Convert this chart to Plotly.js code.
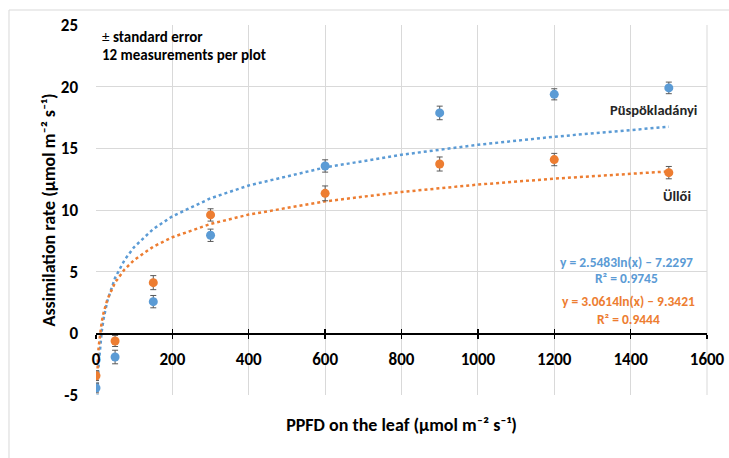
<!DOCTYPE html>
<html>
<head>
<meta charset="utf-8">
<script src="https://cdn.plot.ly/plotly-3.0.1.min.js"></script>
<style>html,body{margin:0;padding:0;background:#fff;}#chart{width:729px;height:458px;}</style>
</head>
<body>
<div id="chart"></div>
<script>
// Measured data (PPFD on the leaf vs assimilation rate)
const ppfd = [0, 50, 150, 300, 600, 900, 1200, 1500];
const puspokValues = [-4.43, -1.92, 2.57, 7.95, 13.57, 17.87, 19.38, 19.9];
const puspokErr = [0.4, 0.55, 0.5, 0.5, 0.5, 0.55, 0.45, 0.47];
const ulloiValues = [-3.43, -0.62, 4.11, 9.6, 11.35, 13.73, 14.09, 13.03];
const ulloiErr = [0.4, 0.45, 0.57, 0.5, 0.6, 0.57, 0.5, 0.5];

// Logarithmic trendlines
const trendX = [1, 2, 3, 5, 7, 10, 15, 20, 30, 50, 75, 100, 150, 200, 300, 400, 600, 800, 1000, 1200, 1500];
const puspokTrend = [-9.58, -7.08, -5.63, -3.79, -2.57, -1.29, 0.17, 1.20, 2.66, 4.50, 5.96, 7.00, 8.46, 9.49, 10.95, 11.99, 13.45, 14.48, 15.29, 15.94, 16.75];
const ulloiTrend = [-6.25, -4.41, -3.34, -1.99, -1.09, -0.15, 0.93, 1.69, 2.76, 4.12, 5.19, 5.95, 7.03, 7.79, 8.87, 9.63, 10.70, 11.46, 12.06, 12.54, 13.13];

// Axis ticks
const xTicks = [0, 200, 400, 600, 800, 1000, 1200, 1400, 1600];
const yTicks = [-5, 0, 5, 10, 15, 20, 25];
const yTickText = ['-5', '0', '5', '10', '15', '20', '25'];

const seriesNames = ['Püspökladányi', 'Üllői'];
const equations = ['y = 2.5483ln(x) – 7.2297', 'y = 3.0614ln(x) – 9.3421'];
const r2Labels = ['R² = 0.9745', 'R² = 0.9444'];
const noteLines = ['± standard error', '12 measurements per plot'];

const BLUE = '#5B9BD5', ORANGE = '#ED7D31';
const FONT = 'Carlito, Lato, "Liberation Sans", sans-serif';

const traces = [
  {x: trendX, y: puspokTrend, mode: 'lines', line: {color: BLUE, width: 2.5, dash: 'dot'}, hoverinfo: 'skip', showlegend: false},
  {x: trendX, y: ulloiTrend, mode: 'lines', line: {color: ORANGE, width: 2.5, dash: 'dot'}, hoverinfo: 'skip', showlegend: false},
  {x: ppfd, y: puspokValues, name: seriesNames[0], mode: 'markers', marker: {color: BLUE, size: 9},
   error_y: {type: 'data', array: puspokErr, visible: true, color: '#595959', thickness: 1, width: 3}, showlegend: false},
  {x: ppfd, y: ulloiValues, name: seriesNames[1], mode: 'markers', marker: {color: ORANGE, size: 9},
   error_y: {type: 'data', array: ulloiErr, visible: true, color: '#595959', thickness: 1, width: 3}, showlegend: false},
  // carriers so the zero-crossing axes are drawn (points sit outside the y range)
  {x: [0], y: [-100], xaxis: 'x2', mode: 'markers', marker: {opacity: 0}, hoverinfo: 'skip', showlegend: false},
  {x: [0], y: [-100], xaxis: 'x3', mode: 'markers', marker: {opacity: 0}, hoverinfo: 'skip', showlegend: false}
];

const tickFont = {family: FONT, size: 17, color: '#000', weight: 'bold'};
const titleFont = {family: FONT, size: 18, color: '#000', weight: 'bold'};
const zeroPos = (0 - yTicks[0]) / (yTicks[yTicks.length - 1] - yTicks[0]);

const layout = {
  width: 729, height: 458,
  margin: {l: 96, r: 22, t: 25, b: 63},
  paper_bgcolor: '#fff', plot_bgcolor: '#fff',
  showlegend: false,
  font: {family: FONT, color: '#000'},
  xaxis: {
    range: [0, 1600], tickvals: xTicks, showticklabels: false, ticks: '',
    showgrid: true, gridcolor: '#d9d9d9', gridwidth: 1, zeroline: false, showline: false,
    title: {text: 'PPFD on the leaf (µmol m⁻² s⁻¹)', font: titleFont, standoff: 23}
  },
  xaxis2: {
    overlaying: 'x', anchor: 'free', position: zeroPos, range: [0, 1600],
    tickvals: xTicks, ticktext: xTicks.map(String), tickfont: tickFont,
    ticks: 'outside', ticklen: 4, tickcolor: '#000', tickwidth: 1.3,
    showline: true, linecolor: '#000', linewidth: 1.5, showgrid: false, zeroline: false,
    ticklabelstandoff: 6
  },
  xaxis3: {
    overlaying: 'x', anchor: 'free', position: zeroPos, range: [0, 1600],
    tickvals: xTicks, showticklabels: false,
    ticks: 'inside', ticklen: 4, tickcolor: '#000', tickwidth: 1.3,
    showline: false, showgrid: false, zeroline: false
  },
  yaxis: {
    range: [-5, 25], tickvals: yTicks, ticktext: yTickText, tickfont: tickFont,
    ticks: '', showline: false, showgrid: true, gridcolor: '#d9d9d9', gridwidth: 1, zeroline: false,
    ticklabelstandoff: 17,
    title: {text: 'Assimilation rate (µmol m⁻² s⁻¹)', font: titleFont, standoff: 0}
  },
  shapes: [
    {type: 'line', xref: 'paper', yref: 'paper', x0: 1, x1: 1, y0: 0, y1: 1, line: {color: '#d9d9d9', width: 1}, layer: 'below'},
    {type: 'line', xref: 'paper', yref: 'paper', x0: -0.1424, x1: -0.1424, y0: 1.0405, y1: -0.2, line: {color: '#d9d9d9', width: 1}},
    {type: 'line', xref: 'paper', yref: 'paper', x0: -0.1424, x1: 1.1, y0: 1.0405, y1: 1.0405, line: {color: '#d9d9d9', width: 1}}
  ],
  annotations: [
    {xref: 'paper', yref: 'paper', x: 0.0065, y: 0.9676, xanchor: 'left', yanchor: 'middle', showarrow: false,
     text: '± <b>standard error</b>', font: {family: FONT, size: 15, color: '#000'}},
    {xref: 'paper', yref: 'paper', x: 0.0065, y: 0.919, xanchor: 'left', yanchor: 'middle', showarrow: false,
     text: '<b>' + noteLines[1] + '</b>', font: {family: FONT, size: 15, color: '#000'}},
    {xref: 'paper', yref: 'paper', x: 0.913, y: 0.770, xanchor: 'center', yanchor: 'middle', showarrow: false,
     text: '<b>' + seriesNames[0] + '</b>', font: {family: FONT, size: 14.5, color: '#262626'}},
    {xref: 'paper', yref: 'paper', x: 0.951, y: 0.538, xanchor: 'center', yanchor: 'middle', showarrow: false,
     text: '<b>' + seriesNames[1] + '</b>', font: {family: FONT, size: 14.5, color: '#262626'}},
    {xref: 'paper', yref: 'paper', x: 0.869, y: 0.359, xanchor: 'center', yanchor: 'middle', showarrow: false,
     text: '<b>' + equations[0] + '</b>', font: {family: FONT, size: 13.5, color: BLUE}},
    {xref: 'paper', yref: 'paper', x: 0.869, y: 0.316, xanchor: 'center', yanchor: 'middle', showarrow: false,
     text: '<b>' + r2Labels[0] + '</b>', font: {family: FONT, size: 13.5, color: BLUE}},
    {xref: 'paper', yref: 'paper', x: 0.872, y: 0.254, xanchor: 'center', yanchor: 'middle', showarrow: false,
     text: '<b>' + equations[1] + '</b>', font: {family: FONT, size: 13.5, color: ORANGE}},
    {xref: 'paper', yref: 'paper', x: 0.872, y: 0.205, xanchor: 'center', yanchor: 'middle', showarrow: false,
     text: '<b>' + r2Labels[1] + '</b>', font: {family: FONT, size: 13.5, color: ORANGE}}
  ]
};

Plotly.newPlot('chart', traces, layout, {displayModeBar: false, staticPlot: true});
</script>
</body>
</html>
